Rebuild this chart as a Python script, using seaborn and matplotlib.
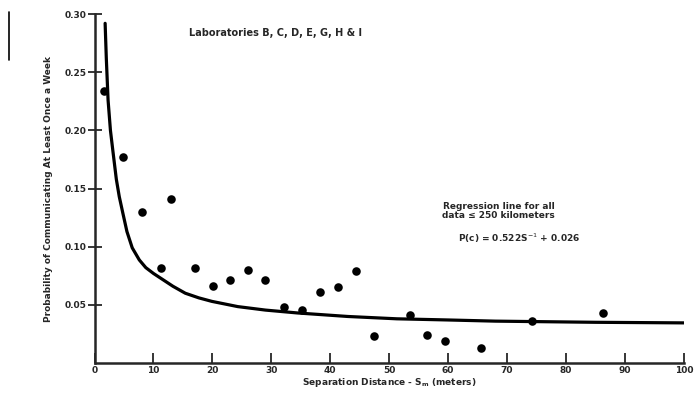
import matplotlib
matplotlib.use("Agg")
import matplotlib.pyplot as plt
import seaborn as sns
import pandas as pd
from matplotlib.lines import Line2D

# Observed points (separation distance in meters, probability)
dist = [1.6, 4.8, 8.0, 11.2, 12.9, 17.1, 20.1, 23.0, 26.0, 29.0, 32.2, 35.2,
        38.2, 41.3, 44.4, 47.5, 53.5, 56.4, 59.4, 65.5, 74.2, 86.3]
prob = [0.234, 0.177, 0.130, 0.082, 0.141, 0.082, 0.066, 0.071, 0.080, 0.071,
        0.048, 0.046, 0.061, 0.065, 0.079, 0.023, 0.041, 0.024, 0.019, 0.013,
        0.036, 0.043]

# Regression curve
curve_x = [1.8, 2.0, 2.3, 2.7, 3.1, 3.7, 4.2, 4.8, 5.5, 6.4, 7.6, 8.7, 10.0,
           11.5, 13.3, 15.4, 17.7, 19.9, 24.3, 29.0, 34.5, 43.0, 51.3, 60.0,
           68.0, 85.0, 100.0]
curve_y = [0.292, 0.262, 0.226, 0.200, 0.183, 0.158, 0.143, 0.129, 0.113,
           0.099, 0.0886, 0.082, 0.077, 0.072, 0.066, 0.060, 0.056, 0.053,
           0.0485, 0.0455, 0.043, 0.040, 0.038, 0.037, 0.036, 0.035, 0.0345]

xticks = [0, 10, 20, 30, 40, 50, 60, 70, 80, 90, 100]
yticks = [0.05, 0.10, 0.15, 0.20, 0.25, 0.30]
ytick_labels = ["0.05", "0.10", "0.15", "0.20", "0.25", "0.30"]

sns.set_style("ticks")
plt.rcParams['font.family'] = ['DejaVu Sans']

fig = plt.figure(figsize=(6.95, 3.93), dpi=100)
ax = fig.add_axes([0.136, 0.0763, 0.848, 0.888])

pts = pd.DataFrame({"d": dist, "p": prob})
crv = pd.DataFrame({"d": curve_x, "p": curve_y})

sns.lineplot(data=crv, x="d", y="p", ax=ax, color="black", linewidth=2.3)
sns.scatterplot(data=pts, x="d", y="p", ax=ax, color="black", s=38,
                edgecolor="black", linewidth=0, zorder=3)

ax.set_xlim(0, 100)
ax.set_ylim(0, 0.30)
ax.set_xticks(xticks)
ax.set_xticklabels([str(t) for t in xticks], fontsize=6.5, fontweight="bold")
ax.set_yticks(yticks)
ax.set_yticklabels(ytick_labels, fontsize=6.5, fontweight="bold")
ax.tick_params(axis="x", direction="in", length=7, width=1.3, pad=2)
ax.tick_params(axis="y", direction="inout", length=10, width=1.3, pad=1)
for s in ["top", "right"]:
    ax.spines[s].set_visible(False)
for s in ["left", "bottom"]:
    ax.spines[s].set_linewidth(1.8)

ax.set_xlabel("Separation Distance - $\\mathbf{S_m}$ (meters)", fontsize=6.5,
              fontweight="bold", labelpad=1)
ax.set_ylabel("Probability of Communicating At Least Once a Week", fontsize=6.5,
              fontweight="bold", labelpad=8)

ax.text(16, 0.284, "Laboratories B, C, D, E, G, H & I", fontsize=7,
        fontweight="bold", ha="left", va="center")
ax.text(68.6, 0.1305, "Regression line for all\ndata \u2264 250 kilometers",
        fontsize=6.5, fontweight="bold", ha="center", va="center",
        linespacing=1.0)
ax.text(72, 0.1075, "P(c) = 0.522S$^{-1}$ + 0.026", fontsize=6.5,
        fontweight="bold", ha="center", va="center")

# scan artifact at far left
fig.add_artist(Line2D([0.0135, 0.0135], [1 - 12/393, 1 - 60/393],
                      color="black", linewidth=1.2))

fig.savefig("out.png", dpi=100)
